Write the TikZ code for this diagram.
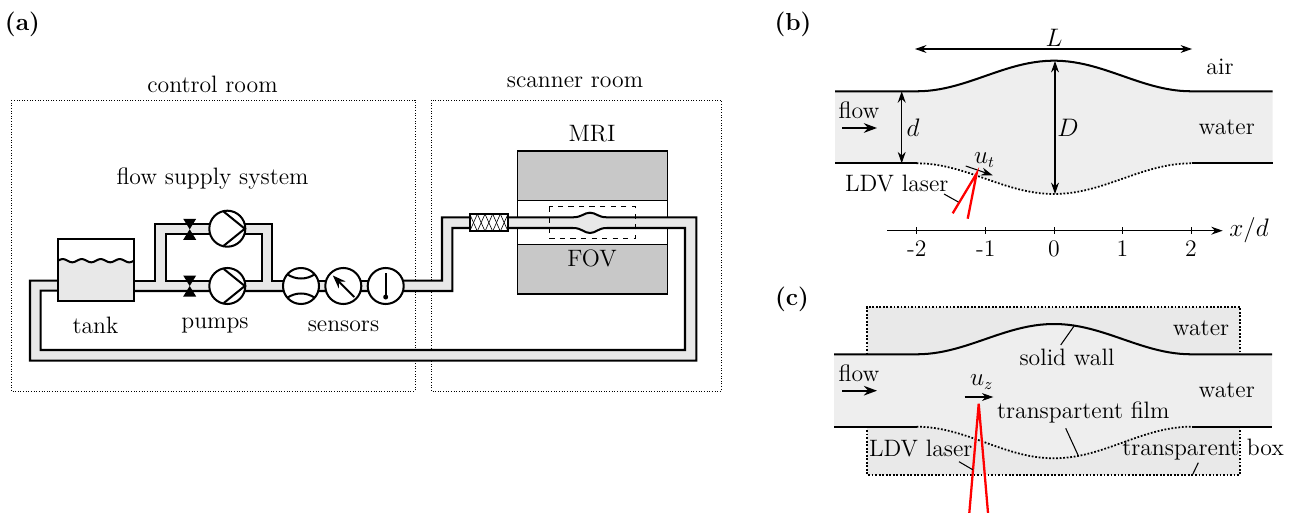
\documentclass[tikz,border=0pt]{standalone}
\usepackage{amsmath}
\usetikzlibrary{arrows.meta,calc}
\definecolor{pipegray}{HTML}{E8E8E8}
\definecolor{magnetgray}{HTML}{C8C8C8}
\definecolor{watergray}{HTML}{EEEEEE}
\definecolor{boxgray}{HTML}{E9E9E9}
\tikzset{
  declare function={bump(\x)=0.5*(1+cos(1.30909*\x));},
  wall/.style={line width=1.15pt},
  thinwall/.style={line width=0.65pt},
  filmline/.style={line width=1pt,densely dotted},
  roomline/.style={line width=0.5pt,densely dotted},
  devicenode/.style={circle,draw,wall,fill=white,minimum size=20.5pt,inner sep=0pt},
  textnode/.style={inner sep=0pt,font=\fontsize{13.5}{15}\selectfont},
  panelnode/.style={inner sep=0pt,font=\fontsize{14}{15}\selectfont\bfseries},
  laserline/.style={red,line width=1.3pt},
  leaderline/.style={line width=0.6pt},
  dimarrow/.style={line width=0.6pt,{Stealth[length=6.5pt,width=4.5pt]}-{Stealth[length=6.5pt,width=4.5pt]}},
  onearrow/.style={line width=0.6pt,-{Stealth[length=6.5pt,width=4.5pt]}},
  flowarrow/.style={line width=1.1pt,-{Stealth[length=7.5pt,width=5.5pt]}}
}
\newcommand{\pumpsign}[1]{\draw[wall] (#1) ++(-3.5,-17) -- ++(21,17) -- ++(-21,17);}
\newcommand{\valvesign}[1]{\fill (#1) ++(-6.5,-10.5) -- ++(13,0) -- ++(-13,21) -- ++(13,0) -- cycle;}
\begin{document}
\begin{tikzpicture}[x=0.02cm,y=-0.02cm]
\useasboundingbox (0,0) rectangle (1291,513);

% panel (a)
\node[panelnode] (a) at (22.5,24) {(a)};
\draw[roomline] (11,100) rectangle (415,391);
\draw[roomline] (431,100) rectangle (721,391);
\node[textnode] (control) at (212.5,84) {control room};
\node[textnode] (scanner) at (575,82) {scanner room};
\node[textnode] (supply) at (212.5,179) {flow supply system};

% magnet
\draw[thinwall,fill=magnetgray] (517.3,151) rectangle (667.3,294);
\draw[thinwall,fill=white] (517.3,200.7) rectangle (667.3,244.3);
\node[textnode] (mri) at (592,134) {MRI};
\node[textnode] (fov) at (592,258) {FOV};

% pipes
\fill[pipegray] (58,280.7) -- (30,280.7) -- (30,360.7) -- (696.3,360.7) -- (696.3,217.3) -- (606.7,217.3)
  .. controls (598,217.3) and (596,212.7) .. (590,212.7) .. controls (584,212.7) and (582,217.3) .. (573,217.3)
  -- (442,217.3) -- (442,280.7) -- (301,280.7) -- (271.7,280.7) -- (271.7,224) -- (155.3,224) -- (155.3,280.7) -- (133,280.7)
  -- (133,291) -- (452.3,291) -- (452.3,228) -- (573,228)
  .. controls (582,228) and (584,233) .. (590,233) .. controls (596,233) and (598,228) .. (606.7,228)
  -- (685,228) -- (685,350) -- (40.7,350) -- (40.7,290.7) -- (58,290.7) -- cycle;
\fill[white] (165.7,234.3) rectangle (261.7,280.7);
\draw[wall] (58,280.7) -- (30,280.7) -- (30,360.7) -- (696.3,360.7) -- (696.3,217.3) -- (606.7,217.3)
  .. controls (598,217.3) and (596,212.7) .. (590,212.7) .. controls (584,212.7) and (582,217.3) .. (573,217.3)
  -- (442,217.3) -- (442,280.7) -- (403,280.7);
\draw[wall] (58,290.7) -- (40.7,290.7) -- (40.7,350) -- (685,350) -- (685,228) -- (606.7,228)
  .. controls (598,228) and (596,233) .. (590,233) .. controls (584,233) and (582,228) .. (573,228)
  -- (452.3,228) -- (452.3,291) -- (133,291);
\draw[wall] (133,280.7) -- (155.3,280.7) -- (155.3,224) -- (271.7,224) -- (271.7,280.7) -- (380,280.7);
\draw[wall] (165.7,280.7) -- (165.7,234.3) -- (261.7,234.3) -- (261.7,280.7) -- cycle;
\draw[line width=0.5pt,dashed] (549.3,206.7) rectangle (635.3,238.3);

% tank
\draw[wall,fill=white] (58,238.7) rectangle (133.7,300.7);
\fill[pipegray] (58,260.7) -- plot[domain=58:133.7,samples=60] (\x,{260.7-1.6*sin(18.95*(\x-58))}) -- (133.7,300.7) -- (58,300.7) -- cycle;
\draw[wall] plot[domain=58:133.7,samples=60] (\x,{260.7-1.6*sin(18.95*(\x-58))});
\draw[wall] (58,238.7) rectangle (133.7,300.7);
\node[textnode] (tank) at (95.5,325) {tank};

% pumps and valves
\node[devicenode] (pump1) at (227.3,228.7) {};
\node[devicenode] (pump2) at (227.3,286) {};
\pumpsign{pump1}
\pumpsign{pump2}
\coordinate (valve1) at (189.7,229.3);
\coordinate (valve2) at (189.7,286);
\valvesign{valve1}
\valvesign{valve2}
\node[textnode] (pumps) at (215,326) {pumps};

% sensors
\node[devicenode] (flowmeter) at (301,286) {};
\node[devicenode] (gauge) at (343.3,286) {};
\node[devicenode] (thermo) at (385.7,286) {};
\draw[wall] ($(flowmeter)+(-14,-12)$) .. controls ($(flowmeter)+(-6,-6)$) and ($(flowmeter)+(6,-6)$) .. ($(flowmeter)+(14,-12)$);
\draw[wall] ($(flowmeter)+(-14,12)$) .. controls ($(flowmeter)+(-6,6)$) and ($(flowmeter)+(6,6)$) .. ($(flowmeter)+(14,12)$);
\draw[flowarrow] ($(gauge)+(11,11)$) -- ($(gauge)+(-10.5,-10.5)$);
\draw[wall] ($(thermo)+(0,-13)$) -- ($(thermo)+(0,11)$);
\fill ($(thermo)+(0,11)$) circle (2.5);
\node[textnode] (sensors) at (343.5,326) {sensors};

% honeycomb
\draw[wall,fill=white] (469.7,214) rectangle (508,231.3);
\foreach \i in {0,1,2,3,4}
{
\draw[line width=0.35pt] (469.7+7.66*\i,214) -- (469.7+7.66*\i+7.66,231.3);
\draw[line width=0.35pt] (469.7+7.66*\i,231.3) -- (469.7+7.66*\i+7.66,214);
}

% panel (b)
\node[panelnode] (b) at (793,24) {(b)};
\fill[watergray] (835,91.3) -- (916.5,91.3) -- plot[domain=-137.5:137.5,samples=50] (1054+\x,{91.3-30.6*bump(\x)}) -- (1272.7,91.3)
  -- (1272.7,163.3) -- (1191.5,163.3) -- plot[domain=137.5:-137.5,samples=50] (1054+\x,{163.3+30.7*bump(\x)}) -- (835,163.3) -- cycle;
\draw[wall] (835,91.3) -- (916.5,91.3) -- plot[domain=-137.5:137.5,samples=50] (1054+\x,{91.3-30.6*bump(\x)}) -- (1272.7,91.3);
\draw[wall] (835,163.3) -- (916.5,163.3);
\draw[wall] (1191.5,163.3) -- (1272.7,163.3);
\draw[filmline] plot[domain=-137.5:137.5,samples=50] (1054+\x,{163.3+30.7*bump(\x)});
\coordinate (La) at (915,49);
\coordinate (Lb) at (1192,49);
\draw[dimarrow] (La) -- (Lb);
\node[textnode] (Llabel) at (1054,38) {$L$};
\node[textnode] (air) at (1220,67) {air};
\node[textnode] (waterb) at (1226.7,127.5) {water};
\node[textnode] (flowb) at (859,110) {flow};
\coordinate (flowba) at (842,128);
\coordinate (flowbb) at (877,128);
\draw[flowarrow] (flowba) -- (flowbb);
\coordinate (da) at (901.7,91.3);
\coordinate (db) at (901.7,163.3);
\draw[dimarrow] (da) -- (db);
\node[textnode] (dlabel) at (913,128) {$d$};
\coordinate (Da) at (1055,61);
\coordinate (Db) at (1055,194);
\draw[dimarrow] (Da) -- (Db);
\node[textnode] (Dlabel) at (1068,128) {$D$};
\coordinate (uta) at (965.7,166);
\coordinate (utb) at (992.7,175.3);
\draw[onearrow] (uta) -- (utb);
\node[textnode] (ut) at (984.5,160) {$u_t$};
\coordinate (laserb) at (976.7,173.3);
\coordinate (laserb1) at (952.7,213.3);
\coordinate (laserb2) at (967.7,218.7);
\draw[laserline] (laserb1) -- (laserb) -- (laserb2);
\node[textnode] (ldvb) at (896.7,183.3) {LDV laser};
\coordinate (ldvba) at (944,194);
\coordinate (ldvbb) at (958.3,202);
\draw[leaderline] (ldvba) -- (ldvbb);
\coordinate (axisa) at (887.3,230.7);
\coordinate (axisb) at (1222.7,230.7);
\draw[onearrow] (axisa) -- (axisb);
\foreach \xpos/\xlabel in {916.7/-2,985.7/-1,1054/0,1122.3/1,1191/2}
{
\draw[line width=0.5pt] (\xpos,227.4) -- (\xpos,234);
\node[textnode] at (\xpos,249) {\xlabel};
}
\node[textnode] (xlabel) at (1249,230) {$x/d$};

% panel (c)
\node[panelnode] (c) at (792,299) {(c)};
\fill[boxgray] (867,307) rectangle (1240,474.7);
\fill[watergray] (834,354.3) -- (916.5,354.3) -- plot[domain=-137.5:137.5,samples=50] (1054+\x,{354.3-30.3*bump(\x)}) -- (1272,354.3)
  -- (1272,426.7) -- (1191.5,426.7) -- plot[domain=137.5:-137.5,samples=50] (1054+\x,{426.7+31.6*bump(\x)}) -- (834,426.7) -- cycle;
\draw[filmline] (867,354.3) -- (867,307) -- (1240,307) -- (1240,354.3);
\draw[filmline] (867,426.7) -- (867,474.7) -- (1240,474.7) -- (1240,426.7);
\draw[wall] (834,354.3) -- (916.5,354.3) -- plot[domain=-137.5:137.5,samples=50] (1054+\x,{354.3-30.3*bump(\x)}) -- (1272,354.3);
\draw[wall] (834,426.7) -- (916.5,426.7);
\draw[wall] (1191.5,426.7) -- (1272,426.7);
\draw[filmline] plot[domain=-137.5:137.5,samples=50] (1054+\x,{426.7+31.6*bump(\x)});
\node[textnode] (waterc) at (1201,328) {water};
\node[textnode] (wallc) at (1067,357) {solid wall};
\coordinate (wallca) at (1074.3,325.7);
\coordinate (wallcb) at (1060.7,345);
\draw[leaderline] (wallca) -- (wallcb);
\node[textnode] (flowc) at (859,373) {flow};
\coordinate (flowca) at (842,390.7);
\coordinate (flowcb) at (877,390.7);
\draw[flowarrow] (flowca) -- (flowcb);
\node[textnode] (uz) at (981.7,382) {$u_z$};
\coordinate (uza) at (964.7,397);
\coordinate (uzb) at (993.3,397);
\draw[onearrow] (uza) -- (uzb);
\coordinate (laserc) at (978.7,403.7);
\coordinate (laserc1) at (969.3,513);
\coordinate (laserc2) at (988,513);
\draw[laserline] (laserc1) -- (laserc) -- (laserc2);
\node[textnode] (waterd) at (1226.7,390.7) {water};
\node[textnode] (film) at (1083.3,412.3) {transpartent film};
\coordinate (filma) at (1065.7,428.3);
\coordinate (filmb) at (1078.3,455.7);
\draw[leaderline] (filma) -- (filmb);
\node[textnode] (ldvc) at (920.7,449) {LDV laser};
\coordinate (ldvca) at (959,461.7);
\coordinate (ldvcb) at (972.7,469.7);
\draw[leaderline] (ldvca) -- (ldvcb);
\node[textnode] (boxc) at (1203,450) {transparent box};
\coordinate (boxca) at (1198.3,462.7);
\coordinate (boxcb) at (1192.7,474.3);
\draw[leaderline] (boxca) -- (boxcb);
\end{tikzpicture}
\end{document}
